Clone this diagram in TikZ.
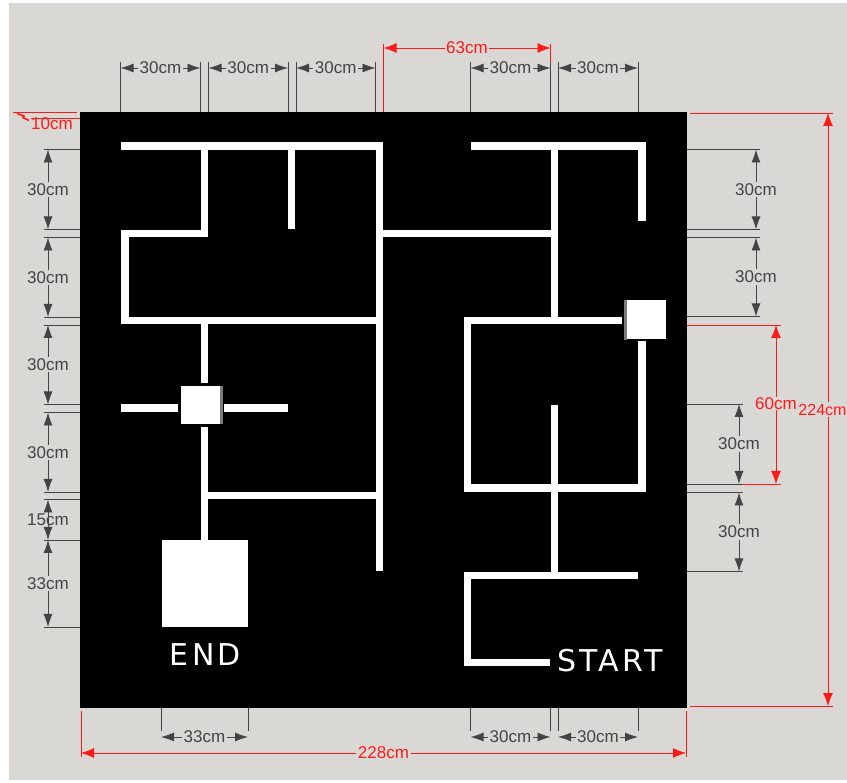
\documentclass[tikz,border=0pt]{standalone}
\usepackage{fontspec}
\usepackage{xcolor}
\usetikzlibrary{arrows.meta}
\setmainfont{Liberation Sans}
\newfontfamily\boardfont[LetterSpace=11]{DejaVu Sans}
\definecolor{floorgray}{HTML}{D9D8D4}
\definecolor{dimgray}{HTML}{444444}
\definecolor{dimred}{HTML}{FF1A1A}
\tikzset{
    wall/.style={white, line width=7.5pt, line join=miter},
    extline/.style={dimgray, line width=.8pt},
    extred/.style={dimred, line width=.8pt},
    dimline/.style={dimgray, line width=.8pt, {Latex[length=13pt,width=9pt]}-{Latex[length=13pt,width=9pt]}},
    dimredline/.style={dimred, line width=.8pt, {Latex[length=13pt,width=10pt]}-{Latex[length=13pt,width=10pt]}},
    dimtext/.style={fill=floorgray, inner sep=1.5pt, text=dimgray, font=\fontsize{17}{17}\selectfont},
    redtext/.style={fill=floorgray, inner sep=1.5pt, text=dimred, font=\fontsize{17}{17}\selectfont},
    block/.style={fill=white, inner sep=0pt},
    boardtext/.style={text=white, font=\boardfont\fontsize{30}{30}\selectfont}
}
\begin{document}
\begin{tikzpicture}[x=1pt, y=-1pt]
\useasboundingbox (0,0) rectangle (847,783);
\fill[floorgray] (9,3) rectangle (847,780);

% board
\fill[black] (80,112) rectangle (687,708);

% walls left half
\draw[wall] (121,146) -- (379.5,146);
\draw[wall] (204.5,146) -- (204.5,233.5) -- (125,233.5) -- (125,320.5) -- (379.5,320.5);
\draw[wall] (291.5,146) -- (291.5,229);
\draw[wall] (379.5,142.3) -- (379.5,571);
\draw[wall] (204.5,320.5) -- (204.5,383);
\draw[wall] (121,408) -- (178,408);
\draw[wall] (224,408) -- (287.5,408);
\draw[wall] (204.5,427) -- (204.5,541);
\draw[wall] (204.5,495.5) -- (379.5,495.5);

% walls right half
\draw[wall] (471,146) -- (642,146) -- (642,221);
\draw[wall] (379.5,233.5) -- (554.5,233.5);
\draw[wall] (554.5,146) -- (554.5,320.5);
\draw[wall] (622,320.5) -- (467.5,320.5) -- (467.5,488) -- (642,488) -- (642,341);
\draw[wall] (554.5,405) -- (554.5,575);
\draw[wall] (637.5,575.5) -- (467.5,575.5) -- (467.5,662.5) -- (550,662.5);

% blocks
\node[block, minimum width=39.5pt, minimum height=38pt] (gateleft) at (200.5,405) {};
\fill[dimgray!70] (gateleft.north east) rectangle ([xshift=3pt]gateleft.south east);
\node[block, minimum width=39.5pt, minimum height=39pt] (gateright) at (646.5,320) {};
\fill[dimgray!70] ([xshift=-3pt]gateright.north west) rectangle (gateright.south west);
\node[block, minimum width=86.5pt, minimum height=86.5pt] (endzone) at (205,583.7) {};
\node[boardtext] (endtext) at (205.5,655) {END};
\node[boardtext] (starttext) at (610,661) {START};

% red dimensions
\draw[extred] (383.5,44) -- (383.5,112) (550.5,44) -- (550.5,112);
\draw[dimredline] (383.5,48) -- node[redtext] (rtop) {63cm} (550.5,48);
\draw[extred] (690,113) -- (833,113) (690,706) -- (833,706);
\draw[dimredline] (828,113) -- node[redtext, xshift=-5.5pt, font=\fontsize{16}{16}\selectfont] (rheight) {224cm} (828,706);
\draw[extred] (687,325) -- (781,325) (743,484) -- (781,484);
\draw[dimredline] (776,325) -- node[redtext, inner sep=0pt, yshift=1pt] (rsixty) {60cm} (776,484);
\draw[extred] (81,711) -- (81,757) (686,711) -- (686,757);
\draw[dimredline] (81,753) -- node[redtext] (rwidth) {228cm} (686,753);

% top and bottom dimensions
\foreach \a/\b/\y/\e/\t/\n in {120.5/200.5/68/112/30cm/ta,208.5/288/68/112/30cm/tb,296/375.5/68/112/30cm/tc,470.5/550.5/68/112/30cm/td,558/638/68/112/30cm/te,
                               161/248/737/708/33cm/ba,470.5/550.5/737/708/30cm/bb,558/638/737/708/30cm/bc}
{
    \draw[extline] (\a,\y-6) -- (\a,\e) (\b,\y-6) -- (\b,\e);
    \draw[dimline] (\a,\y) -- node[dimtext] (\n) {\t} (\b,\y);
}

% left dimensions
\foreach \a/\b/\t/\n in {149.5/229.5/30cm/la,237.5/317/30cm/lb,325/404.5/30cm/lc,412.5/492/30cm/ld,540/627/33cm/lf}
{
    \draw[extline] (44,\a) -- (80,\a) (44,\b) -- (80,\b);
    \draw[dimline] (48,\a) -- node[dimtext] (\n) {\t} (48,\b);
}
\draw[extline] (44,499.5) -- (80,499.5) (44,540) -- (80,540);
\draw[dimline] (48,499.5) -- (48,540);
\node[text=dimgray, font=\fontsize{17}{17}\selectfont] (le) at (48,520) {15cm};

% right dimensions
\foreach \a/\b/\x/\n in {149.5/229.5/756/ra,237.5/316.5/756/rb,404/484/739/rc,492.5/571.5/739/rd}
{
    \draw[extline] (687,\a) -- (\x+4,\a) (687,\b) -- (\x+4,\b);
    \draw[dimline] (\x,\a) -- node[dimtext] (\n) {30cm} (\x,\b);
}

% 10cm mark
\draw[extred] (13,112.5) -- (77,112.5) (31,118) -- (80,118);
\draw[extred, line width=1.6pt] (17,113.5) -- (24,116) -- (23,117.5) -- (29,120.5);
\node[text=dimred, font=\fontsize{17}{17}\selectfont] (rten) at (52,124) {10cm};
\end{tikzpicture}
\end{document}
